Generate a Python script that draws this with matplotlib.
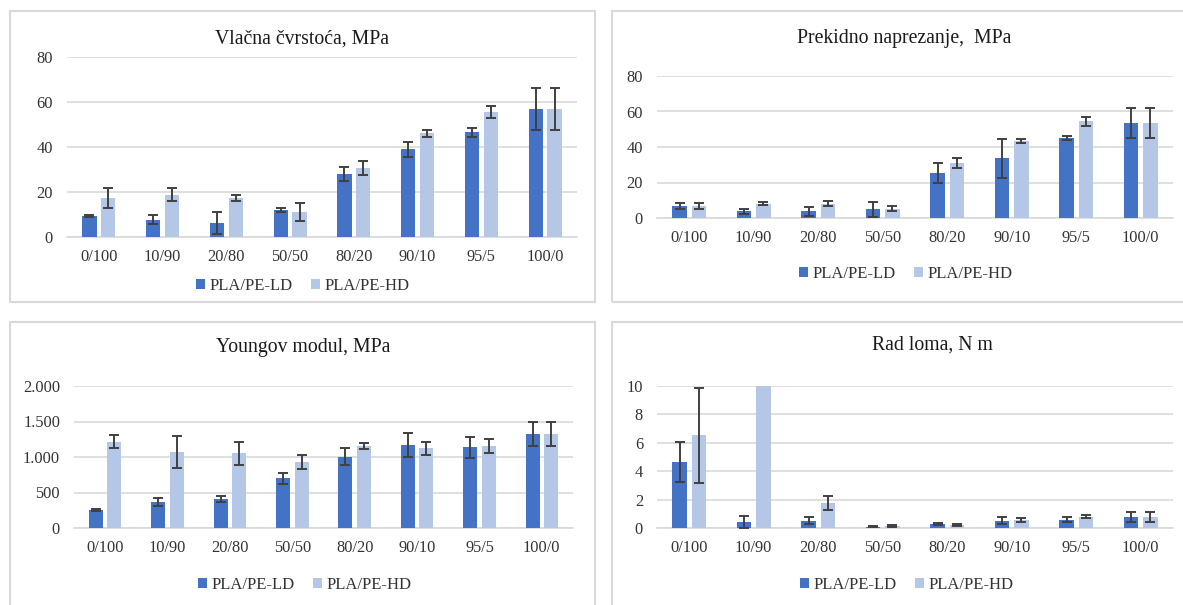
import numpy as np
import matplotlib
matplotlib.use("Agg")
import matplotlib.pyplot as plt
from matplotlib.patches import Rectangle, Patch
from matplotlib.ticker import FuncFormatter

plt.rcParams['font.family'] = ['Liberation Serif', 'DejaVu Serif']

categories = ['0/100', '10/90', '20/80', '50/50', '80/20', '90/10', '95/5', '100/0']
series_names = ['PLA/PE-LD', 'PLA/PE-HD']

# Vlačna čvrstoća, MPa
tens_ld = [9.3, 7.6, 6.3, 12.1, 28.0, 39.0, 46.5, 57.0]
tens_ld_err = [0.3, 2.0, 4.9, 0.9, 3.0, 3.4, 2.0, 9.4]
tens_hd = [17.4, 18.8, 17.3, 11.2, 30.6, 46.0, 55.6, 57.0]
tens_hd_err = [4.3, 2.8, 1.4, 4.0, 3.1, 1.5, 2.8, 9.4]

# Prekidno naprezanje, MPa
brk_ld = [6.9, 3.7, 3.7, 4.9, 25.4, 33.6, 45.2, 53.5]
brk_ld_err = [1.6, 1.5, 2.3, 4.2, 5.8, 10.8, 1.1, 8.6]
brk_hd = [6.9, 8.1, 8.1, 5.1, 30.8, 43.4, 54.5, 53.5]
brk_hd_err = [1.8, 1.0, 1.6, 1.4, 2.9, 0.9, 2.5, 8.6]

# Youngov modul, MPa
yng_ld = [258, 365, 407, 698, 1002, 1166, 1138, 1321]
yng_ld_err = [16, 56, 40, 73, 120, 171, 150, 169]
yng_hd = [1213, 1073, 1054, 932, 1152, 1124, 1152, 1321]
yng_hd_err = [91, 222, 162, 98, 42, 89, 96, 169]

# Rad loma, N m (10/90 HD runs off the top of the axis)
rad_ld = [4.66, 0.42, 0.52, 0.09, 0.28, 0.52, 0.59, 0.80]
rad_ld_err = [1.43, 0.41, 0.26, 0.03, 0.08, 0.22, 0.16, 0.35]
rad_hd = [6.53, 14.0, 1.76, 0.14, 0.19, 0.59, 0.80, 0.80]
rad_hd_err = [3.34, 1.5, 0.46, 0.05, 0.07, 0.14, 0.10, 0.35]

C_LD = '#4472C4'
C_HD = '#B4C7E7'
C_ERR = '#404040'
C_GRID = '#D9D9D9'
C_TXT = '#333333'

W, H = 1183, 605
fig = plt.figure(figsize=(W / 100, H / 100), dpi=100)


def px_axes(x0, x1, ytop, ybot):
    return fig.add_axes([x0 / W, 1 - ybot / H, (x1 - x0) / W, (ybot - ytop) / H])


def border(x0, y0, x1, y1):
    fig.patches.append(Rectangle((x0 / W, 1 - y1 / H), (x1 - x0) / W, (y1 - y0) / H,
                                 transform=fig.transFigure, fill=False,
                                 edgecolor=C_GRID, linewidth=1.5, zorder=0))


def draw_panel(ax, ld, ld_err, hd, hd_err, ymax, step, title, tpos, lpos, fmt=None):
    x = np.arange(len(categories))
    w = 0.225
    off = 0.148
    ekw = dict(ecolor=C_ERR, elinewidth=1.4, capsize=3.6, capthick=1.4)
    ax.bar(x - off, ld, w, color=C_LD, yerr=ld_err, error_kw=ekw, zorder=3)
    ax.bar(x + off, hd, w, color=C_HD, yerr=hd_err, error_kw=ekw, zorder=3)
    ax.set_xlim(-0.5, len(categories) - 0.5)
    ax.set_ylim(0, ymax)
    ax.set_yticks(np.arange(0, ymax + step / 2, step))
    ax.set_xticks(x)
    ax.set_xticklabels(categories)
    if fmt is not None:
        ax.yaxis.set_major_formatter(FuncFormatter(fmt))
    ax.grid(axis='y', color=C_GRID, linewidth=1.2, zorder=0)
    ax.set_axisbelow(True)
    for s in ['top', 'right', 'left']:
        ax.spines[s].set_visible(False)
    ax.spines['bottom'].set_color(C_GRID)
    ax.spines['bottom'].set_linewidth(1.2)
    ax.tick_params(axis='both', length=0, labelsize=11.8, colors=C_TXT)
    ax.tick_params(axis='y', pad=10)
    ax.tick_params(axis='x', pad=9)
    fig.text(tpos[0] / W, 1 - tpos[1] / H, title, ha='center', va='center',
             fontsize=14.2, color='#1a1a1a')
    handles = [Patch(facecolor=C_LD), Patch(facecolor=C_HD)]
    fig.legend(handles, series_names, loc='center', bbox_to_anchor=(lpos[0] / W, 1 - lpos[1] / H),
               ncol=2, frameon=False, fontsize=12, handlelength=0.5, handleheight=0.5,
               handletextpad=0.3, columnspacing=1.1, labelcolor=C_TXT)


# panel borders
border(10, 11, 595, 302)
border(612, 11, 1200, 302)
border(10, 322, 595, 640)
border(612, 322, 1200, 640)

ax1 = px_axes(67, 577, 57, 237)
draw_panel(ax1, tens_ld, tens_ld_err, tens_hd, tens_hd_err, 80, 20,
           'Vlačna čvrstoća, MPa', (302, 39), (303, 286))

ax2 = px_axes(657, 1173, 76, 218)
draw_panel(ax2, brk_ld, brk_ld_err, brk_hd, brk_hd_err, 80, 20,
           'Prekidno naprezanje,  MPa', (904, 39), (906, 274))

ax3 = px_axes(74, 573, 386, 528)
draw_panel(ax3, yng_ld, yng_ld_err, yng_hd, yng_hd_err, 2000, 500,
           'Youngov modul, MPa', (303, 348), (305, 585),
           fmt=lambda v, p: f'{int(v):,}'.replace(',', '.'))

ax4 = px_axes(657, 1173, 386, 528)
draw_panel(ax4, rad_ld, rad_ld_err, rad_hd, rad_hd_err, 10, 2,
           'Rad loma, N m', (932, 345), (907, 585))

fig.savefig('out.png', dpi=100)
